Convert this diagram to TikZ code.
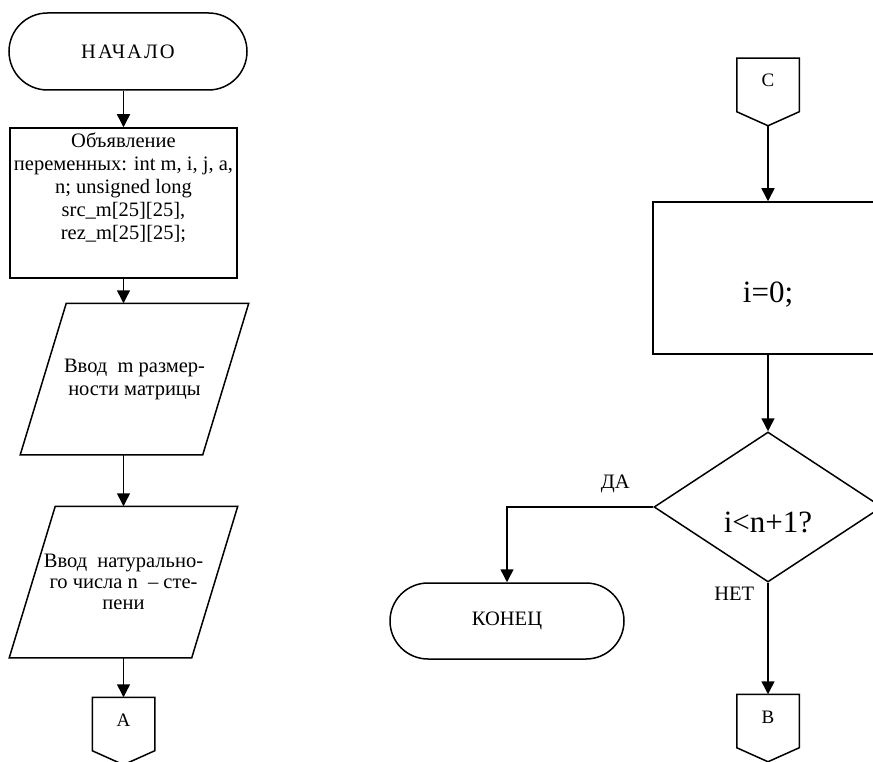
\documentclass[tikz,border=0pt]{standalone}
\usepackage{fontspec}
\setmainfont{Liberation Serif}
\usetikzlibrary{arrows.meta, positioning, shapes.geometric, shapes.misc}

\begin{document}
\begin{tikzpicture}[x=1pt, y=-1pt, line width=1.5pt,
    every node/.style={font=\fontsize{20.5}{23}\selectfont, align=center, inner sep=1pt},
    arr/.style={-{Triangle[length=13pt, width=13pt]}},
    term/.style={draw, rounded rectangle, minimum width=240pt, minimum height=77pt},
    proc/.style={draw, rectangle, minimum width=227pt, minimum height=150pt},
    inout/.style={minimum width=181pt, minimum height=150pt,
      append after command={([xshift=23pt]\tikzlastnode.north west) -- ([xshift=23pt]\tikzlastnode.north east)
        -- ([xshift=-23pt]\tikzlastnode.south east) -- ([xshift=-23pt]\tikzlastnode.south west) -- cycle}},
    decide/.style={draw, diamond, aspect=1.5, minimum width=228pt, minimum height=150pt, inner sep=0pt,
      text height=56pt, text depth=6pt, font=\fontsize{31}{36}\selectfont},
    offpage/.style={minimum width=61pt, minimum height=52pt, inner sep=0pt,
      text height=14pt, text depth=10pt, font=\fontsize{19}{22}\selectfont,
      append after command={(\tikzlastnode.north west) -- (\tikzlastnode.north east)
        -- (\tikzlastnode.south east) -- ([yshift=-14pt]\tikzlastnode.south)
        -- (\tikzlastnode.south west) -- cycle}}]
  \useasboundingbox (0,0) rectangle (873,762);

  \node[term] (start) at (128,51.5) {\addfontfeature{LetterSpace=10}НАЧАЛО};
  \node[proc] (decl) at (123.5,203) {Объявление\\переменных: int m, i, j, a,\\n; unsigned long\\src\_m[25][25],\\rez\_m[25][25];\\[10pt]\mbox{}};
  \draw (134.5,379) node[inout] (inm) {Ввод \ m размер-\\ности матрицы};
  \draw (123.5,582) node[inout, font=\fontsize{20.5}{21}\selectfont] (inn) {Ввод \ натурально-\\го числа n \ – сте-\\пени};
  \draw (123.5,724) node[offpage] (A) {A};

  \draw (768,85) node[offpage] (C) {C};
  \node[proc, minimum width=230pt, minimum height=152pt, text height=54pt, text depth=6pt,
    font=\fontsize{31}{36}\selectfont] (init) at (768,278) {i=0;};
  \node[decide] (check) at (768,507) {i<n+1?};
  \node[term, minimum width=236pt, minimum height=76pt] (stop) at (507,621) {КОНЕЦ};
  \draw (768,721) node[offpage] (B) {B};

  \draw[arr] (start.south -| decl.north) -- (decl.north);
  \draw[arr] (decl.south) -- (decl.south |- inm.north);
  \draw[arr] (inm.south -| decl.south) -- (inn.north -| decl.south);
  \draw[arr] (inn.south -| A.north) -- (A.north);
  \draw[arr] ([yshift=-14pt]C.south) -- (init.north);
  \draw[arr] (init.south) -- (check.north);
  \draw[arr] (check.west) -| node[pos=0.13, above=12pt] {ДА} (stop.north);
  \draw[arr] (check.south) -- node[pos=0.1, left=12pt] {НЕТ} (B.north);
\end{tikzpicture}
\end{document}
